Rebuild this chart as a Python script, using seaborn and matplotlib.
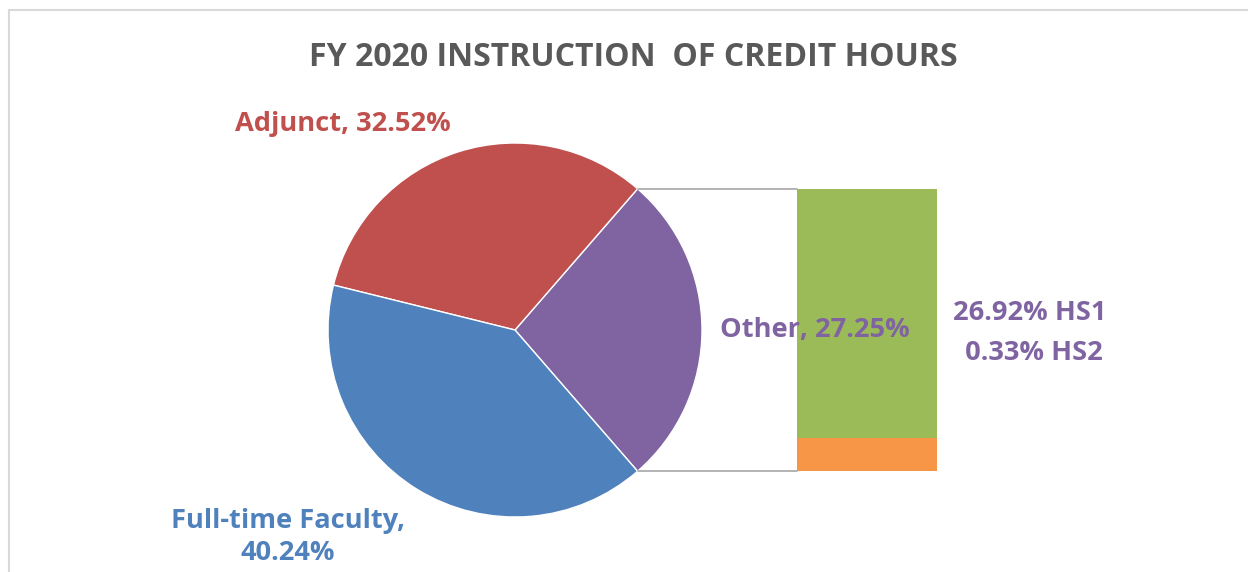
import numpy as np
import matplotlib
matplotlib.use("Agg")
import matplotlib.pyplot as plt
import seaborn as sns
from matplotlib.patches import Rectangle

sns.set_theme(style="white")
plt.rcParams['font.family'] = ['Open Sans', 'DejaVu Sans']

# --- data ---
pie_labels = ["Other", "Adjunct", "Full-time Faculty"]
pie_values = [27.25, 32.52, 40.24]
pie_colors = ["#8064A2", "#C0504D", "#4F81BD"]

bar_labels = ["HS2", "HS1"]
bar_values = [0.33, 26.92]
# segment sizes as drawn in the picture's bar (share of the bar, %)
bar_drawn = [11.8, 88.2]
bar_colors = ["#F79646", "#9BBB59"]

title = "FY 2020 INSTRUCTION  OF CREDIT HOURS"

W, H = 1248, 572
fig = plt.figure(figsize=(W / 100, H / 100), dpi=100)
ax = fig.add_axes([0, 0, 1, 1])

# chart frame
ax.add_patch(Rectangle((9, -20), W + 20, H - 10 + 20, fill=False,
                       edgecolor="#D9D9D9", lw=1.5))

# pie, "Other" wedge centred on the right
cx, cy, r = 515, 242, 187
start = -pie_values[0] / 100 * 360 / 2
ax.pie(pie_values, colors=pie_colors, startangle=start, counterclock=True,
       center=(cx, cy), radius=r, frame=True,
       wedgeprops=dict(linewidth=1, edgecolor="white"))
ax.set_xlim(0, W)
ax.set_ylim(0, H)
ax.axis("off")

# stacked bar for the "Other" breakdown
bx, bw = 867, 140
half = np.deg2rad(-start)
top_y = cy + r * np.sin(half)
bot_y = cy - r * np.sin(half)
scale = (top_y - bot_y) / sum(bar_drawn)
bottom = bot_y
for val, col in zip(bar_drawn, bar_colors):
    ax.bar(bx, val * scale, width=bw, bottom=bottom, color=col, linewidth=0)
    bottom += val * scale

# connector lines
px = cx + r * np.cos(half)
ax.plot([px, bx - bw / 2], [top_y, top_y], color="#A6A6A6", lw=1.2)
ax.plot([px, bx - bw / 2], [bot_y, bot_y], color="#A6A6A6", lw=1.2)

# texts
lbl = dict(ha="center", va="center", fontsize=19.6, fontweight="bold")
ax.text(633, H - 57, title, ha="center", va="center", fontsize=23,
        fontweight="bold", color="#595959")
ax.text(343, H - 124, f"{pie_labels[1]}, {pie_values[1]:.2f}%",
        color=pie_colors[1], **lbl)
ax.text(815, H - 330, f"{pie_labels[0]}, {pie_values[0]:.2f}%",
        color=pie_colors[0], **lbl)
ax.text(288, H - 537, f"{pie_labels[2]},\n{pie_values[2]:.2f}%",
        color=pie_colors[2], linespacing=1.35, **lbl)
ax.text(1030, H - 333,
        f"{bar_values[1]:.2f}% {bar_labels[1]}\n {bar_values[0]:.2f}% {bar_labels[0]}",
        color=pie_colors[0], linespacing=1.7, **lbl)

fig.savefig("out.png", dpi=100, facecolor="white")
